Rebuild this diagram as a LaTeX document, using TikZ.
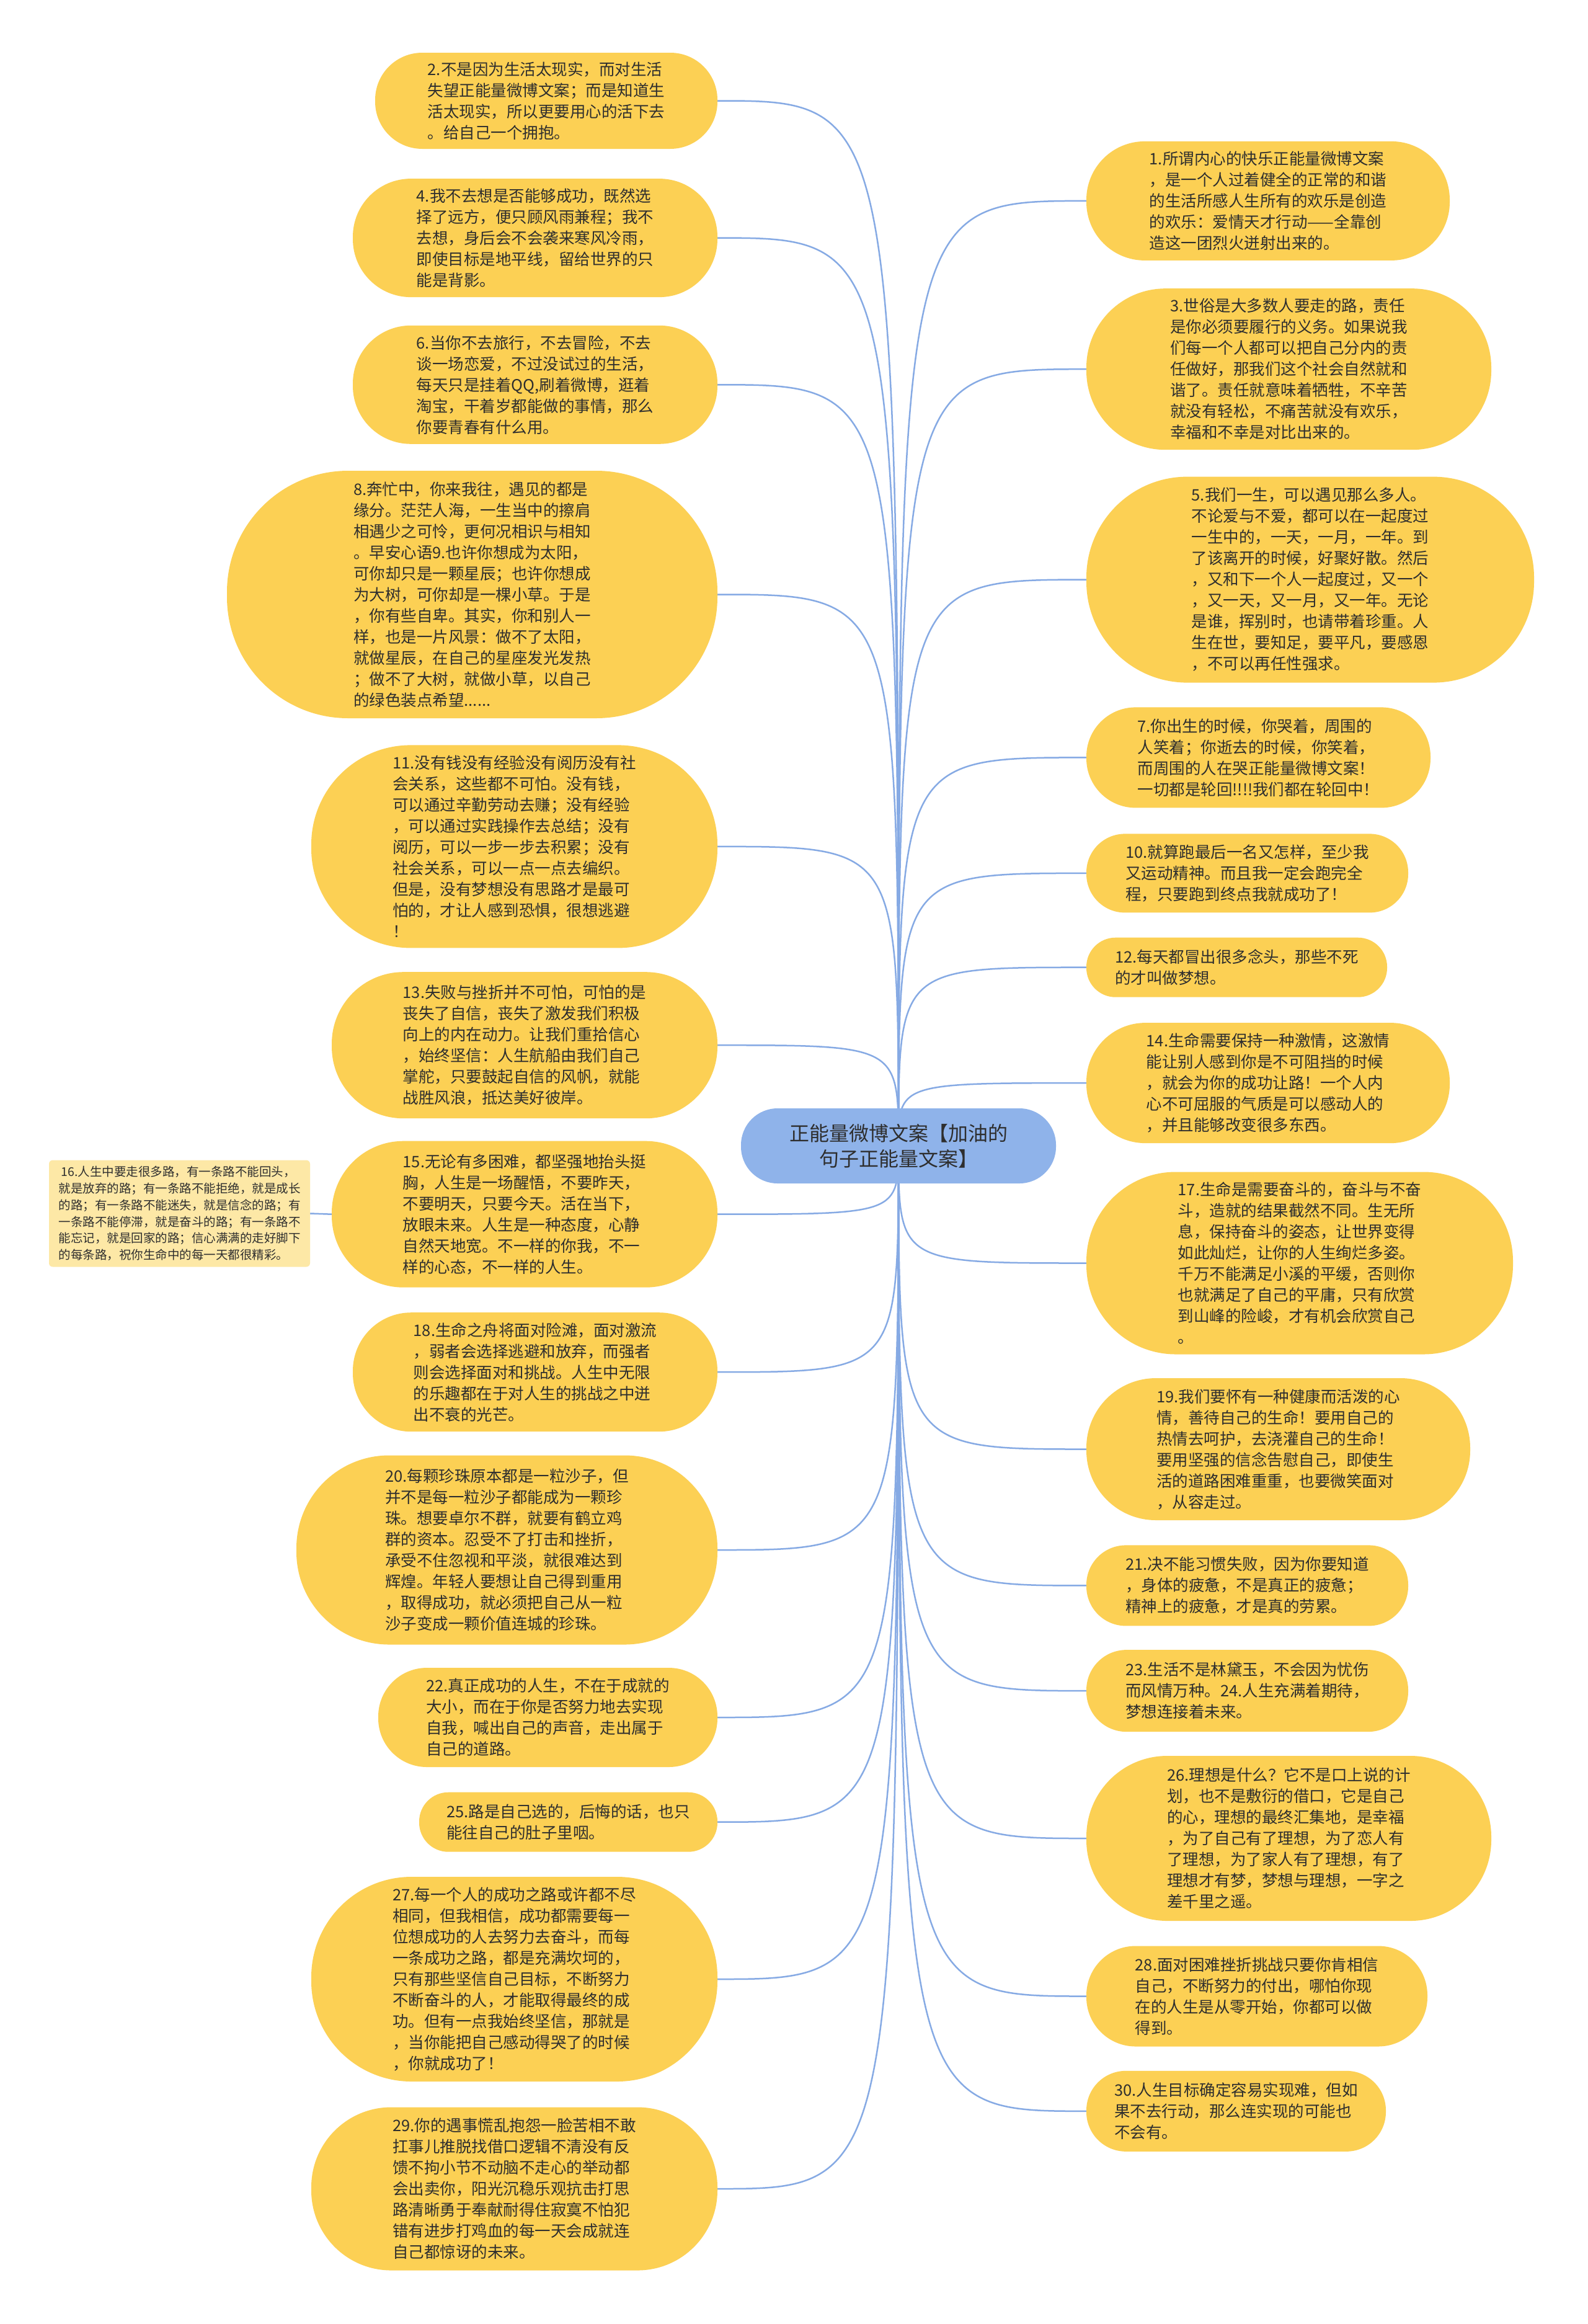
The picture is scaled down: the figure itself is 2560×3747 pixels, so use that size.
\documentclass[tikz,border=0pt]{standalone}
\usepackage{fontspec}
\setmainfont{Noto Sans CJK SC}
\definecolor{nodeyellow}{HTML}{FCD054}
\definecolor{noteyellow}{HTML}{FDE8A6}
\definecolor{rootblue}{HTML}{8FB3EA}
\definecolor{linkblue}{HTML}{86AAE4}
\definecolor{txt}{HTML}{2E2E2E}
\pgfdeclarelayer{bg}
\pgfsetlayers{bg,main}
\begin{document}
\begin{tikzpicture}[x=1pt,y=-1pt,
  bub/.style 2 args={shape=rectangle, fill=nodeyellow, draw=none,
    minimum width=#1pt, minimum height=#2pt, rounded corners=#2*0.49pt,
    inner sep=0pt, align=left, text=txt,
    font=\fontsize{25.5pt}{34pt}\selectfont},
  rootbox/.style={shape=rectangle, fill=rootblue, draw=none,
    minimum width=508pt, minimum height=121pt, rounded corners=59pt,
    inner sep=0pt, align=center, text=txt,
    font=\fontsize{32pt}{41pt}\selectfont},
  notebox/.style={shape=rectangle, fill=noteyellow, draw=none,
    minimum width=421pt, minimum height=172pt, rounded corners=6pt,
    inner sep=0pt, align=left, text=txt,
    font=\fontsize{19.5pt}{26.8pt}\selectfont},
  link/.style={draw=linkblue, line width=2.5pt}
]
\useasboundingbox (0,0) rectangle (2560,3747);

\node[rootbox] (root) at (1449,1847.5) {正能量微博文案【加油的\\句子正能量文案】};

% left column
\node[bub={552}{155}] (n2) at (881,162.5) {2.不是因为生活太现实，而对生活\\失望正能量微博文案；而是知道生\\活太现实，所以更要用心的活下去\\。给自己一个拥抱。};
\node[bub={588}{191}] (n4) at (863,383.6) {4.我不去想是否能够成功，既然选\\择了远方，便只顾风雨兼程；我不\\去想，身后会不会袭来寒风冷雨，\\即使目标是地平线，留给世界的只\\能是背影。};
\node[bub={588}{191}] (n6) at (863,620.3) {6.当你不去旅行，不去冒险，不去\\谈一场恋爱，不过没试过的生活，\\每天只是挂着QQ,刷着微博，逛着\\淘宝，干着岁都能做的事情，那么\\你要青春有什么用。};
\node[bub={791}{399}] (n8) at (761.5,958.5) {8.奔忙中，你来我往，遇见的都是\\缘分。茫茫人海，一生当中的擦肩\\相遇少之可怜，更何况相识与相知\\。早安心语9.也许你想成为太阳，\\可你却只是一颗星辰；也许你想成\\为大树，可你却是一棵小草。于是\\，你有些自卑。其实，你和别人一\\样，也是一片风景：做不了太阳，\\就做星辰，在自己的星座发光发热\\；做不了大树，就做小草，以自己\\的绿色装点希望......};
\node[bub={655}{327}] (n11) at (829.5,1364.9) {11.没有钱没有经验没有阅历没有社\\会关系，这些都不可怕。没有钱，\\可以通过辛勤劳动去赚；没有经验\\，可以通过实践操作去总结；没有\\阅历，可以一步一步去积累；没有\\社会关系，可以一点一点去编织。\\但是，没有梦想没有思路才是最可\\怕的，才让人感到恐惧，很想逃避\\！};
\node[bub={622}{236}] (n13) at (846,1685.2) {13.失败与挫折并不可怕，可怕的是\\丧失了自信，丧失了激发我们积极\\向上的内在动力。让我们重拾信心\\，始终坚信：人生航船由我们自己\\掌舵，只要鼓起自信的风帆，就能\\战胜风浪，抵达美好彼岸。};
\node[bub={622}{236}] (n15) at (846,1957.7) {15.无论有多困难，都坚强地抬头挺\\胸，人生是一场醒悟，不要昨天，\\不要明天，只要今天。活在当下，\\放眼未来。人生是一种态度，心静\\自然天地宽。不一样的你我，不一\\样的心态，不一样的人生。};
\node[notebox] (n16) at (289.5,1956.5) {\ 16.人生中要走很多路，有一条路不能回头，\\就是放弃的路；有一条路不能拒绝，就是成长\\的路；有一条路不能迷失，就是信念的路；有\\一条路不能停滞，就是奋斗的路；有一条路不\\能忘记，就是回家的路；信心满满的走好脚下\\的每条路，祝你生命中的每一天都很精彩。};
\node[bub={588}{192}] (n18) at (863,2212.2) {18.生命之舟将面对险滩，面对激流\\，弱者会选择逃避和放弃，而强者\\则会选择面对和挑战。人生中无限\\的乐趣都在于对人生的挑战之中迸\\出不衰的光芒。};
\node[bub={679}{305}] (n20) at (817.5,2499) {20.每颗珍珠原本都是一粒沙子，但\\并不是每一粒沙子都能成为一颗珍\\珠。想要卓尔不群，就要有鹤立鸡\\群的资本。忍受不了打击和挫折，\\承受不住忽视和平淡，就很难达到\\辉煌。年轻人要想让自己得到重用\\，取得成功，就必须把自己从一粒\\沙子变成一颗价值连城的珍珠。};
\node[bub={547}{160}] (n22) at (883.5,2769) {22.真正成功的人生，不在于成就的\\大小，而在于你是否努力地去实现\\自我，喊出自己的声音，走出属于\\自己的道路。};
\node[bub={481}{96}] (n25) at (916.5,2937.7) {25.路是自己选的，后悔的话，也只\\能往自己的肚子里咽。};
\node[bub={655}{330}] (n27) at (829.5,3191) {27.每一个人的成功之路或许都不尽\\相同，但我相信，成功都需要每一\\位想成功的人去努力去奋斗，而每\\一条成功之路，都是充满坎坷的，\\只有那些坚信自己目标，不断努力\\不断奋斗的人，才能取得最终的成\\功。但有一点我始终坚信，那就是\\，当你能把自己感动得哭了的时候\\，你就成功了！};
\node[bub={655}{263}] (n29) at (829.5,3529) {29.你的遇事慌乱抱怨一脸苦相不敢\\扛事儿推脱找借口逻辑不清没有反\\馈不拘小节不动脑不走心的举动都\\会出卖你，阳光沉稳乐观抗击打思\\路清晰勇于奉献耐得住寂寞不怕犯\\错有进步打鸡血的每一天会成就连\\自己都惊讶的未来。};

% right column
\node[bub={586}{192}] (n1) at (2045,323.9) {1.所谓内心的快乐正能量微博文案\\，是一个人过着健全的正常的和谐\\的生活所感人生所有的欢乐是创造\\的欢乐：爱情天才行动——全靠创\\造这一团烈火迸射出来的。};
\node[bub={653}{260}] (n3) at (2078.5,595.2) {3.世俗是大多数人要走的路，责任\\是你必须要履行的义务。如果说我\\们每一个人都可以把自己分内的责\\任做好，那我们这个社会自然就和\\谐了。责任就意味着牺牲，不辛苦\\就没有轻松，不痛苦就没有欢乐，\\幸福和不幸是对比出来的。};
\node[bub={722}{332}] (n5) at (2113,934.6) {5.我们一生，可以遇见那么多人。\\不论爱与不爱，都可以在一起度过\\一生中的，一天，一月，一年。到\\了该离开的时候，好聚好散。然后\\，又和下一个人一起度过，又一个\\，又一天，又一月，又一年。无论\\是谁，挥别时，也请带着珍重。人\\生在世，要知足，要平凡，要感恩\\，不可以再任性强求。};
\node[bub={555}{162}] (n7) at (2029.5,1221.4) {7.你出生的时候，你哭着，周围的\\人笑着；你逝去的时候，你笑着，\\而周围的人在哭正能量微博文案！\\一切都是轮回!!!!我们都在轮回中！};
\node[bub={519}{127}] (n10) at (2011.5,1407.9) {10.就算跑最后一名又怎样，至少我\\又运动精神。而且我一定会跑完全\\程，只要跑到终点我就成功了！};
\node[bub={485}{96}] (n12) at (1994.5,1559.7) {12.每天都冒出很多念头，那些不死\\的才叫做梦想。};
\node[bub={586}{194}] (n14) at (2045,1746.1) {14.生命需要保持一种激情，这激情\\能让别人感到你是不可阻挡的时候\\，就会为你的成功让路！一个人内\\心不可屈服的气质是可以感动人的\\，并且能够改变很多东西。};
\node[bub={688}{294}] (n17) at (2096,2036.5) {17.生命是需要奋斗的，奋斗与不奋\\斗，造就的结果截然不同。生无所\\息，保持奋斗的姿态，让世界变得\\如此灿烂，让你的人生绚烂多姿。\\千万不能满足小溪的平缓，否则你\\也就满足了自己的平庸，只有欣赏\\到山峰的险峻，才有机会欣赏自己\\。};
\node[bub={619}{229}] (n19) at (2061.5,2336.5) {19.我们要怀有一种健康而活泼的心\\情，善待自己的生命！要用自己的\\热情去呵护，去浇灌自己的生命！\\要用坚强的信念告慰自己，即使生\\活的道路困难重重，也要微笑面对\\，从容走过。};
\node[bub={519}{130}] (n21) at (2011.5,2556.4) {21.决不能习惯失败，因为你要知道\\，身体的疲惫，不是真正的疲惫；\\精神上的疲惫，才是真的劳累。};
\node[bub={519}{132}] (n23) at (2011.5,2726.1) {23.生活不是林黛玉，不会因为忧伤\\而风情万种。24.人生充满着期待，\\梦想连接着未来。};
\node[bub={653}{266}] (n26) at (2078.5,2964) {26.理想是什么？它不是口上说的计\\划，也不是敷衍的借口，它是自己\\的心，理想的最终汇集地，是幸福\\，为了自己有了理想，为了恋人有\\了理想，为了家人有了理想，有了\\理想才有梦，梦想与理想，一字之\\差千里之遥。};
\node[bub={550}{162}] (n28) at (2027,3218.5) {28.面对困难挫折挑战只要你肯相信\\自己，不断努力的付出，哪怕你现\\在的人生是从零开始，你都可以做\\得到。};
\node[bub={483}{130}] (n30) at (1993.5,3403.8) {30.人生目标确定容易实现难，但如\\果不去行动，那么连实现的可能也\\不会有。};

\begin{pgfonlayer}{bg}
\fill[white] (0,0) rectangle (2560,3747);
\foreach \n in {n2,n4,n6,n8,n11,n13,n15,n18,n20,n22,n25,n27,n29}
  \draw[link] (root.center) .. controls (root.center |- \n.east) .. (\n.east);
\foreach \n in {n1,n3,n5,n7,n10,n12,n14,n17,n19,n21,n23,n26,n28,n30}
  \draw[link] (root.center) .. controls (root.center |- \n.west) .. (\n.west);
\draw[link] (n15.west) -- (n16.east);
\end{pgfonlayer}
\end{tikzpicture}
\end{document}
